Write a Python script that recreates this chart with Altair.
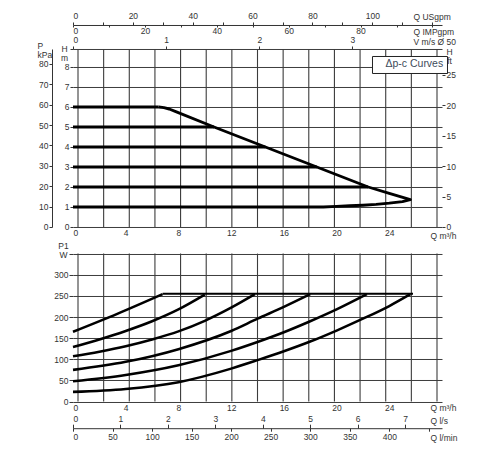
import altair as alt
import pandas as pd

# ---------------- data ----------------
Q_DOMAIN = [0, 28]          # m3/h
H_DOMAIN = [0, 8.9]         # m
P1_DOMAIN = [0, 350]        # W

# unit conversions (per m3/h or per m)
M3H_PER_USGPM = 0.22712
M3H_PER_IMPGPM = 0.27277
M3H_PER_MS_DN50 = 7.0686
M3H_PER_LS = 3.6
M3H_PER_LMIN = 0.06
KPA_PER_M = 9.80665
FT_PER_M = 3.28084

# axis ticks
Q_GRID = list(range(0, 29, 2))
H_M_TICKS = list(range(0, 9))
KPA_TICKS = list(range(0, 90, 10))
FT_TICKS = [0, 5, 10, 15, 20, 25]
USGPM_TICKS = list(range(0, 130, 10))
IMPGPM_TICKS = list(range(0, 110, 10))
V_TICKS = [0, 1, 2, 3]
P1_TICKS = list(range(0, 351, 50))
LS_TICKS = list(range(0, 8))
LMIN_TICKS = list(range(0, 451, 50))

# constant-pressure (Δp-c) levels, m, and flow where each meets the max curve
H_LEVELS = [2, 3, 4, 5, 6]
H_LEVEL_END_Q = [22.4, 18.5, 14.6, 10.7, 6.5]

# max curve, return branch and the 1 m line, traced in order
MAX_Q = [6.5, 6.9, 7.3, 7.8, 10.7, 14.6, 18.5, 22.4, 24.0, 25.6,
         25.0, 24.0, 23.0, 22.0, 21.0, 20.0, 19.0, 0.0]
MAX_H = [6.0, 5.97, 5.9, 5.77, 5.0, 4.0, 3.0, 2.0, 1.68, 1.37,
         1.27, 1.19, 1.13, 1.09, 1.06, 1.03, 1.0, 1.0]
CURVE_NAME = "Δp-c Curves"

# P1 power curves (W) for each level
P_H1_Q = [0, 4, 8, 12, 14, 16, 18, 20, 22, 24, 25.6]
P_H1_W = [23, 30, 46, 78, 98, 119, 142, 168, 196, 226, 254]
P_H2_Q = [0, 4, 8, 12, 14, 16, 18, 20, 22.3]
P_H2_W = [48, 63, 86, 120, 141, 164, 190, 218, 254]
P_H3_Q = [0, 4, 8, 12, 14, 16, 18]
P_H3_W = [75, 94, 124, 167, 196, 224, 254]
P_H4_Q = [0, 2, 4, 6, 8, 10, 12, 13.8]
P_H4_W = [107, 118, 131, 147, 166, 191, 222, 254]
P_H5_Q = [0, 2, 4, 6, 8, 10]
P_H5_W = [129, 147, 167, 190, 218, 253]
P_H6_Q = [0, 3.4, 6.8]
P_H6_W = [165, 208, 254]
P_MAX_Q = [6.8, 25.8]
P_MAX_W = [255, 255]

# ---------------- tables ----------------
top_rows = []
for lvl, qe in zip(H_LEVELS, H_LEVEL_END_Q):
    top_rows.append({"seg": f"L{lvl}", "i": 0, "q": 0.0, "h": lvl, "kind": "level", "name": CURVE_NAME})
    top_rows.append({"seg": f"L{lvl}", "i": 1, "q": qe, "h": lvl, "kind": "level", "name": CURVE_NAME})
for i, (q, h) in enumerate(zip(MAX_Q, MAX_H)):
    top_rows.append({"seg": "max", "i": i, "q": q, "h": h, "kind": "limit", "name": CURVE_NAME})
top_df = pd.DataFrame(top_rows)

p_rows = []
for cid, (qs, ws) in enumerate([(P_H1_Q, P_H1_W), (P_H2_Q, P_H2_W), (P_H3_Q, P_H3_W),
                                (P_H4_Q, P_H4_W), (P_H5_Q, P_H5_W), (P_H6_Q, P_H6_W)]):
    for q, w in zip(qs, ws):
        p_rows.append({"c": f"C{cid + 1}", "q": q, "p": w, "kind": "curve"})
for q, w in zip(P_MAX_Q, P_MAX_W):
    p_rows.append({"c": "max", "q": q, "p": w, "kind": "max"})
p_df = pd.DataFrame(p_rows)

# vertical grid of each panel: one thin bar per grid value, spanning the panel's domain
grid_top_df = pd.DataFrame({"q": Q_GRID, "h0": [H_DOMAIN[0]] * len(Q_GRID),
                            "h1": [H_DOMAIN[1]] * len(Q_GRID)})
grid_bot_df = pd.DataFrame({"q": Q_GRID, "p0": [P1_DOMAIN[0]] * len(Q_GRID),
                            "p1": [P1_DOMAIN[1]] * len(Q_GRID)})

# ---------------- layout / styling ----------------
FONT = "Liberation Sans"
GRID = "#3c3c3c"
TXT = "#333333"
W = 369
PANEL_TOP = 178
GAP = 26.6
PANEL_BOT = 148
HT = PANEL_TOP + GAP + PANEL_BOT

qscale = alt.Scale(domain=Q_DOMAIN, nice=False, zero=False)
hscale = alt.Scale(domain=H_DOMAIN, range=[PANEL_TOP, 0], nice=False, zero=False)
pscale = alt.Scale(domain=P1_DOMAIN, range=[HT, HT - PANEL_BOT], nice=False, zero=False)


def q_axis(offset, title_y):
    return alt.Axis(orient="bottom", offset=offset, values=Q_GRID, grid=False,
                    ticks=False, domain=False, labelOverlap=False, labelPadding=2,
                    labelExpr="datum.value % 4 == 0 && datum.value <= 24 ? datum.label : ''",
                    title="Q m³/h", titleX=357, titleY=title_y, titleAlign="left",
                    titleBaseline="middle")


grid_top = alt.Chart(grid_top_df).mark_bar(color=GRID, size=1.1).encode(
    x=alt.X("q:Q", scale=qscale, axis=None),
    y=alt.Y("h0:Q", scale=hscale, axis=None), y2="h1:Q")
grid_bot = alt.Chart(grid_bot_df).mark_bar(color=GRID, size=1.1).encode(
    x=alt.X("q:Q", scale=qscale, axis=None),
    y=alt.Y("p0:Q", scale=pscale, axis=None), y2="p1:Q")

# top panel curves
lines_top = alt.Chart(top_df).mark_line(strokeCap="butt", strokeJoin="round").encode(
    x=alt.X("q:Q", scale=qscale, axis=q_axis(-(GAP + PANEL_BOT), 9)),
    y=alt.Y("h:Q", scale=hscale,
            axis=alt.Axis(orient="left", values=H_M_TICKS + [H_DOMAIN[1]], grid=True,
                          gridColor=GRID, gridWidth=1, domain=False, tickSize=3, labelPadding=1,
                          labelExpr="datum.value <= 8 ? datum.label : ''",
                          title=["H", "m"], titleAngle=0, titleAlign="center", titleBaseline="top",
                          titleX=-9, titleY=-4, titleLineHeight=9)),
    detail="seg:N",
    order="i:Q",
    strokeWidth=alt.StrokeWidth("kind:N", scale=alt.Scale(domain=["level", "limit"], range=[3.2, 2.2]),
                                legend=None),
    color=alt.Color("name:N", scale=alt.Scale(range=["black"]),
                    legend=alt.Legend(title=None, orient="none", legendX=299, legendY=7,
                                      symbolSize=0, symbolStrokeWidth=0, symbolOpacity=0,
                                      labelOffset=0, labelFont=FONT, labelFontSize=10.5,
                                      labelColor="#3d4b5a", fillColor="white",
                                      strokeColor="#222222", padding=3)),
)

# bottom panel curves
lines_bot = alt.Chart(p_df).mark_line(color="black", strokeCap="butt", interpolate="monotone").encode(
    x=alt.X("q:Q", scale=qscale, axis=q_axis(0, 6)),
    y=alt.Y("p:Q", scale=pscale,
            axis=alt.Axis(orient="left", values=P1_TICKS, grid=True, gridColor=GRID, gridWidth=1,
                          domain=False, tickSize=4, labelPadding=1,
                          labelExpr="datum.value <= 300 ? datum.label : ''",
                          title=["P1", "W"], titleAngle=0, titleAlign="center", titleBaseline="top",
                          titleX=-10, titleY=PANEL_TOP + GAP - 12, titleLineHeight=9)),
    detail="c:N",
    strokeWidth=alt.StrokeWidth("kind:N", scale=alt.Scale(domain=["curve", "max"], range=[2.3, 3.0]),
                                legend=None),
)

# secondary axes (invisible carrier marks)
kpa = alt.Chart(pd.DataFrame({"kpa": KPA_TICKS})).mark_point(opacity=0).encode(
    x=alt.X("kpa:Q", axis=None),
    y=alt.Y("kpa:Q", scale=alt.Scale(domain=[0, H_DOMAIN[1] * KPA_PER_M], range=[PANEL_TOP, 0],
                                     nice=False, zero=False),
            axis=alt.Axis(orient="left", offset=21, values=KPA_TICKS, grid=False, domain=True,
                          domainColor=TXT, tickSize=3, labelPadding=1,
                          title=["P", "kPa"], titleAngle=0, titleAlign="left", titleBaseline="top",
                          titleX=-15, titleY=-7, titleLineHeight=9)))

ft = alt.Chart(pd.DataFrame({"ft": FT_TICKS})).mark_point(opacity=0).encode(
    x=alt.X("ft:Q", axis=None),
    y=alt.Y("ft:Q", scale=alt.Scale(domain=[0, H_DOMAIN[1] * FT_PER_M], range=[PANEL_TOP, 0],
                                    nice=False, zero=False),
            axis=alt.Axis(orient="right", values=FT_TICKS, grid=False, domain=False,
                          tickSize=3, labelPadding=1,
                          title=["H", "ft"], titleAngle=0, titleAlign="center", titleBaseline="top",
                          titleX=7, titleY=-1, titleLineHeight=9)))

us = alt.Chart(pd.DataFrame({"us": USGPM_TICKS})).mark_point(opacity=0).encode(
    y=alt.Y("us:Q", axis=None),
    x=alt.X("us:Q", scale=alt.Scale(domain=[0, Q_DOMAIN[1] / M3H_PER_USGPM], nice=False, zero=False),
            axis=alt.Axis(orient="top", offset=24, values=USGPM_TICKS, grid=False, domain=True,
                          domainColor=TXT, tickSize=3, labelPadding=1, labelOverlap=False,
                          labelExpr="datum.value % 20 == 0 && datum.value <= 100 ? datum.label : ''",
                          title="Q USgpm", titleX=340, titleY=-8, titleAlign="left",
                          titleBaseline="middle")))

imp = alt.Chart(pd.DataFrame({"imp": IMPGPM_TICKS})).mark_point(opacity=0).encode(
    y=alt.Y("imp:Q", axis=None),
    x=alt.X("imp:Q", scale=alt.Scale(domain=[0, Q_DOMAIN[1] / M3H_PER_IMPGPM], nice=False, zero=False),
            axis=alt.Axis(orient="bottom", offset=-(HT + 24), values=IMPGPM_TICKS, grid=False,
                          domain=False, tickSize=2, labelPadding=0, labelOverlap=False,
                          labelExpr="datum.value % 20 == 0 && datum.value <= 80 ? datum.label : ''",
                          title="Q IMPgpm", titleX=340, titleY=7, titleAlign="left",
                          titleBaseline="middle")))

vel = alt.Chart(pd.DataFrame({"v": V_TICKS})).mark_point(opacity=0).encode(
    y=alt.Y("v:Q", axis=None),
    x=alt.X("v:Q", scale=alt.Scale(domain=[0, Q_DOMAIN[1] / M3H_PER_MS_DN50], nice=False, zero=False),
            axis=alt.Axis(orient="top", offset=0, values=V_TICKS, grid=False, domain=False,
                          tickSize=3, labelPadding=1, labelOverlap=False,
                          title="V m/s Ø 50", titleX=340, titleY=-7, titleAlign="left",
                          titleBaseline="middle")))

ls = alt.Chart(pd.DataFrame({"ls": LS_TICKS})).mark_point(opacity=0).encode(
    y=alt.Y("ls:Q", axis=None),
    x=alt.X("ls:Q", scale=alt.Scale(domain=[0, Q_DOMAIN[1] / M3H_PER_LS], nice=False, zero=False),
            axis=alt.Axis(orient="top", offset=-(HT + 26.6), values=LS_TICKS, grid=False,
                          domain=True, domainColor=TXT, tickSize=4, labelPadding=1,
                          labelOverlap=False,
                          title="Q l/s", titleX=357, titleY=-8, titleAlign="left",
                          titleBaseline="middle")))

lmin = alt.Chart(pd.DataFrame({"lmin": LMIN_TICKS})).mark_point(opacity=0).encode(
    y=alt.Y("lmin:Q", axis=None),
    x=alt.X("lmin:Q", scale=alt.Scale(domain=[0, Q_DOMAIN[1] / M3H_PER_LMIN], nice=False, zero=False),
            axis=alt.Axis(orient="bottom", offset=26.6, values=LMIN_TICKS, grid=False,
                          domain=False, tickSize=3, labelPadding=1, labelOverlap=False,
                          labelExpr="datum.value <= 400 ? datum.label : ''",
                          title="Q l/min", titleX=357, titleY=9, titleAlign="left",
                          titleBaseline="middle")))

chart = alt.layer(
    grid_top, grid_bot, lines_top, lines_bot, kpa, ft, us, imp, vel, ls, lmin
).resolve_scale(
    x="independent", y="independent"
).properties(
    width=W, height=HT,
    autosize=alt.AutoSizeParams(type="none"),
    padding={"left": 65, "top": 41, "right": 50, "bottom": 42},
).configure_view(
    strokeOpacity=0
).configure_axis(
    labelFont=FONT, titleFont=FONT, labelFontSize=8.5, titleFontSize=8.5,
    labelColor=TXT, titleColor=TXT, tickColor=TXT, titleFontWeight="normal"
)

chart.save("out.html", embed_options={"renderer": "svg", "actions": False})
